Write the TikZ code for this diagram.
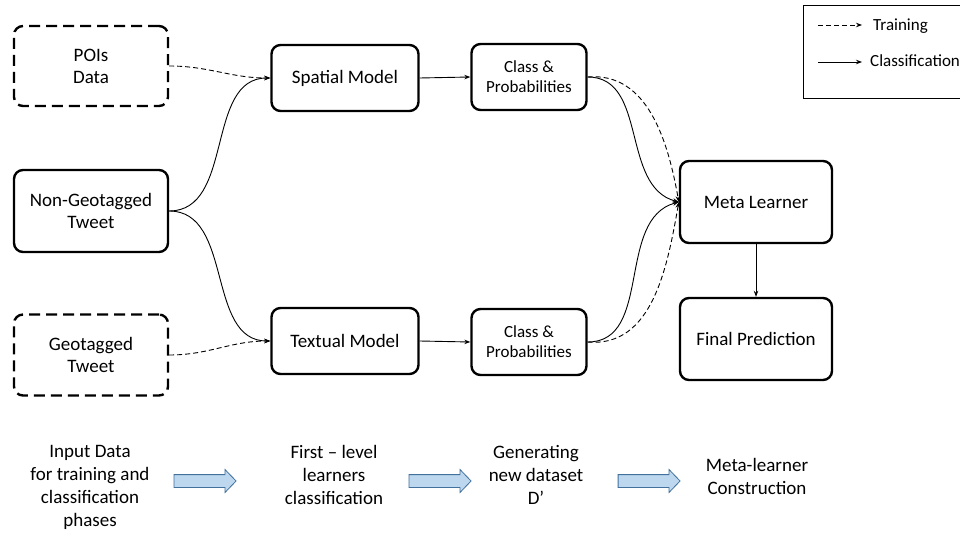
\documentclass[tikz,border=0pt]{standalone}
\usepackage{fontspec}
\setmainfont{Carlito}
\usetikzlibrary{arrows.meta,shapes.arrows}
\definecolor{arrfill}{HTML}{BDD7EE}
\definecolor{arrdraw}{HTML}{41719C}
\tikzset{
  box/.style={draw, line width=2.4pt, rounded corners=9pt, align=center, font=\fontsize{19}{22}\selectfont, inner sep=0pt},
  dbox/.style={box, dash pattern=on 11pt off 6pt},
  cbox/.style={box, font=\fontsize{17}{20}\selectfont},
  conn/.style={line width=0.9pt, -{Stealth[length=6pt,width=4.5pt]}},
  dconn/.style={conn, dash pattern=on 5pt off 3pt},
  lbl/.style={align=center, font=\fontsize{19}{23}\selectfont},
  blk/.style={single arrow, draw=arrdraw, fill=arrfill, line width=0.8pt, minimum height=62pt, inner xsep=0pt, inner ysep=6pt, single arrow head extend=5pt, single arrow tip angle=92, shape border rotate=0}
}
\begin{document}
\begin{tikzpicture}[x=1pt,y=-1pt]
\useasboundingbox (0,0) rectangle (960,534);
\fill[white] (0,0) rectangle (960,534);
% nodes
\node[dbox, minimum width=154pt, minimum height=80pt] (poi) at (91,66) {POIs\\Data};
\node[box, minimum width=154pt, minimum height=82pt] (ng) at (91,211) {Non-Geotagged\\Tweet};
\node[dbox, minimum width=154pt, minimum height=81pt] (geo) at (91,355) {Geotagged\\Tweet};
\node[box, minimum width=147pt, minimum height=66pt] (sp) at (345,78) {Spatial Model};
\node[box, minimum width=147pt, minimum height=66pt] (tx) at (345,341) {Textual Model};
\node[cbox, minimum width=115pt, minimum height=66pt] (c1) at (529,77) {Class \&\\Probabilities};
\node[cbox, minimum width=115pt, minimum height=66pt] (c2) at (529,342) {Class \&\\Probabilities};
\node[box, minimum width=152pt, minimum height=82pt] (ml) at (756,202) {Meta Learner};
\node[box, minimum width=152pt, minimum height=82pt] (fp) at (756,339) {Final Prediction};
% legend
\node[draw, line width=0.8pt, minimum width=170pt, minimum height=93pt, anchor=north west, inner sep=0pt] (leg) at (803,5) {};
\coordinate (l1a) at (818,25); \coordinate (l1b) at (862,25);
\coordinate (l2a) at (818,62); \coordinate (l2b) at (862,62);
\draw[dconn] (l1a) -- (l1b);
\draw[conn] (l2a) -- (l2b);
\node[anchor=west, font=\fontsize{17}{20}\selectfont, inner sep=0pt] (lt) at (873,26) {Training};
\node[anchor=west, font=\fontsize{17}{20}\selectfont, inner sep=0pt] (lc) at (870,61) {Classification};
% connectors
\draw[dconn] (poi.east) to[out=0,in=180] (sp.west);
\draw[conn] (ng.east) to[out=0,in=180] (sp.west);
\draw[conn] (ng.east) to[out=0,in=180] (tx.west);
\draw[dconn] (geo.east) to[out=0,in=180] (tx.west);
\draw[conn] (sp.east) -- (c1.west);
\draw[conn] (tx.east) -- (c2.west);
\draw[conn] (c1.east) to[out=0,in=165] (ml.west);
\draw[dconn] (c1.east) to[out=5,in=100] (ml.west);
\draw[conn] (c2.east) to[out=0,in=195] (ml.west);
\draw[dconn] (c2.east) to[out=-5,in=-100] (ml.west);
\draw[conn] (ml.south) -- (fp.north);
% bottom labels
\node[lbl] (s1) at (90,487) {Input Data\\for training and\\classification\\phases};
\node[lbl] (s2) at (334,475) {First -- level\\learners\\classification};
\node[lbl] (s3) at (536,475) {Generating\\new dataset\\D’};
\node[lbl] (s4) at (757,476) {Meta-learner\\Construction};
\node[blk] (a1) at (202,481) {};
\node[blk] (a2) at (437,481) {};
\node[blk] (a3) at (646,481) {};
\end{tikzpicture}
\end{document}
